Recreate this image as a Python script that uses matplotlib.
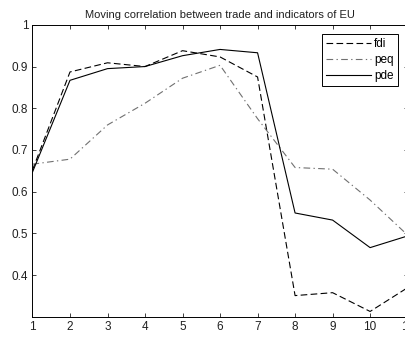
import numpy as np
import matplotlib
matplotlib.use('Agg')
import matplotlib.pyplot as plt
from matplotlib.ticker import FuncFormatter

# 数据：移动相关系数
x = list(range(1, 12))
fdi = [0.652, 0.887, 0.909, 0.900, 0.938, 0.923, 0.875, 0.351, 0.358, 0.313, 0.370]
peq = [0.666, 0.678, 0.760, 0.812, 0.872, 0.903, 0.775, 0.658, 0.654, 0.580, 0.496]
pde = [0.647, 0.867, 0.895, 0.900, 0.926, 0.941, 0.933, 0.549, 0.532, 0.466, 0.494]

title = 'Moving correlation between trade and indicators of EU'
xticks = x
yticks = [0.4, 0.5, 0.6, 0.7, 0.8, 0.9, 1.0]

plt.rcParams['font.family'] = ['Liberation Sans', 'DejaVu Sans']

fig = plt.figure(figsize=(4.06, 3.40), dpi=100)
ax = fig.add_axes([0.080, 0.068, 0.924, 0.859])

ax.plot(x, fdi, color='black', linestyle=(0, (6, 3)), linewidth=0.8, label='fdi')
ax.plot(x, peq, color='#707070', linestyle=(0, (6, 3, 1.2, 3)), linewidth=0.8, label='peq')
ax.plot(x, pde, color='black', linestyle='-', linewidth=0.8, label='pde')

ax.set_xlim(1, 11)
ax.set_ylim(0.3, 1.0)
ax.set_xticks(xticks)
ax.set_yticks(yticks)
ax.yaxis.set_major_formatter(FuncFormatter(lambda v, p: '1' if abs(v - 1) < 1e-9 else '%g' % v))

ax.tick_params(direction='in', top=True, right=True, length=3, width=0.6,
               labelsize=8.5, colors='#202020', pad=3)
for s in ax.spines.values():
    s.set_linewidth(0.7)

ax.set_title(title, fontsize=8, pad=5, color='#202020')

leg = ax.legend(loc='upper right', bbox_to_anchor=(0.99, 0.99), fontsize=8.5,
                fancybox=False, edgecolor='black', framealpha=1,
                handlelength=3.8, handletextpad=0.3, borderpad=0.35, labelspacing=0.35)
leg.get_frame().set_linewidth(0.7)

fig.savefig('out.png', dpi=100)
